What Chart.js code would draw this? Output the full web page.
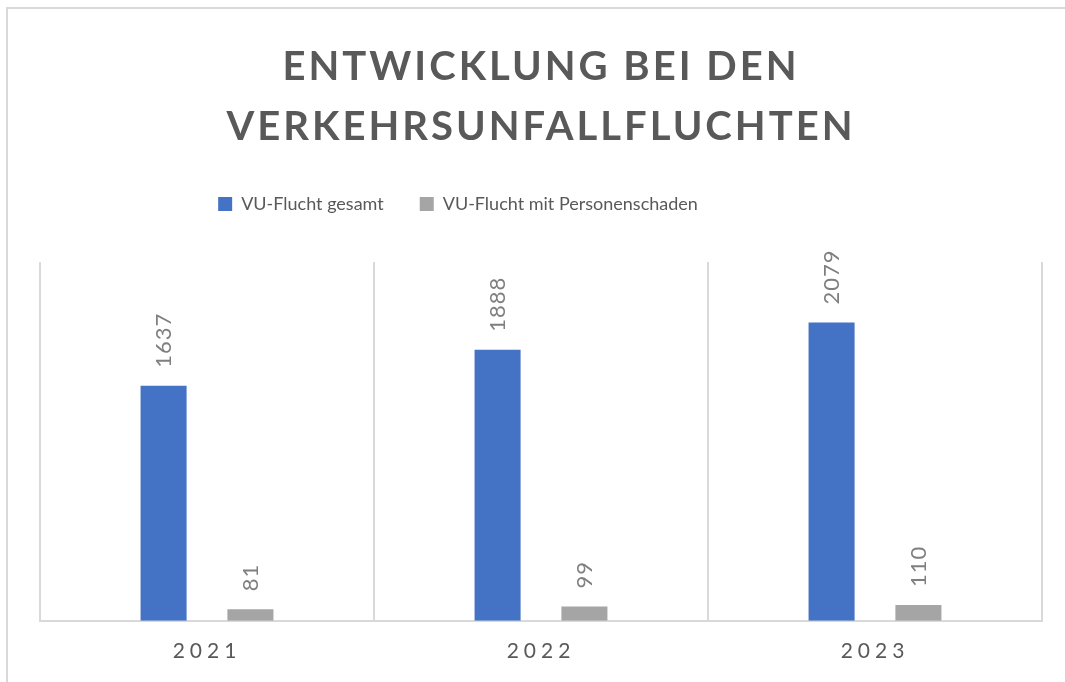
<!DOCTYPE html>
<html>
<head>
<meta charset="utf-8">
<script src="https://cdn.jsdelivr.net/npm/chart.js@4/dist/chart.umd.min.js"></script>
<style>
  html, body { margin: 0; padding: 0; background: #ffffff; }
  #wrap { width: 1065px; height: 682px; }
</style>
</head>
<body>
<div id="wrap"><canvas id="c" width="1065" height="682"></canvas></div>
<script>
const categories = ['2021', '2022', '2023'];
const vuFluchtGesamt = [1637, 1888, 2079];
const vuFluchtPersonenschaden = [81, 99, 110];
const seriesNames = ['VU-Flucht gesamt', 'VU-Flucht mit Personenschaden'];
const titleLines = ['ENTWICKLUNG BEI DEN', 'VERKEHRSUNFALLFLUCHTEN'];

const GRID = '#d9d9d9';
const TEXT = '#595959';

const framePlugin = {
  id: 'frame',
  beforeDraw(chart) {
    const ctx = chart.ctx;
    ctx.save();
    ctx.fillStyle = '#ffffff';
    ctx.fillRect(0, 0, chart.width, chart.height);
    ctx.strokeStyle = GRID;
    ctx.lineWidth = 2;
    ctx.beginPath();
    ctx.moveTo(7, chart.height);
    ctx.lineTo(7, 8);
    ctx.lineTo(chart.width, 8);
    ctx.stroke();
    ctx.restore();
    const wrap = (obj, fn, spacing, dx) => {
      if (!obj || obj['_ls_' + fn]) return;
      const orig = obj[fn];
      obj[fn] = function () {
        const c = this.ctx;
        c.save();
        if (spacing) c.letterSpacing = spacing;
        if (dx) c.translate(dx, 0);
        const r = orig.apply(this, arguments);
        c.restore();
        return r;
      };
      obj['_ls_' + fn] = true;
    };
    wrap(chart.titleBlock, 'draw', '3px', 0);
    wrap(chart.scales.x, 'drawLabels', '5px', 0);
    wrap(chart.legend, 'draw', null, -83);
  }
};

const legendGapPlugin = {
  id: 'legendGap',
  afterInit(chart) {
    const lg = chart.legend;
    if (lg && !lg._gapWrapped) {
      const origFit = lg.fit;
      lg.fit = function () {
        origFit.apply(this, arguments);
        this.height += 39;
      };
      lg._gapWrapped = true;
    }
  }
};

const dataLabelPlugin = {
  id: 'dataLabels',
  afterDatasetsDraw(chart) {
    const ctx = chart.ctx;
    ctx.save();
    ctx.font = '22px Lato';
    ctx.fillStyle = '#7f7f7f';
    ctx.letterSpacing = '1px';
    ctx.textAlign = 'left';
    ctx.textBaseline = 'middle';
    chart.data.datasets.forEach((ds, di) => {
      const meta = chart.getDatasetMeta(di);
      meta.data.forEach((bar, i) => {
        ctx.save();
        ctx.translate(bar.x, bar.y - 18);
        ctx.rotate(-Math.PI / 2);
        ctx.fillText(String(ds.data[i]), 0, 0);
        ctx.restore();
      });
    });
    ctx.restore();
  }
};

new Chart(document.getElementById('c'), {
  type: 'bar',
  data: {
    labels: categories,
    datasets: [
      {
        label: seriesNames[0],
        data: vuFluchtGesamt,
        backgroundColor: '#4472C4',
        categoryPercentage: 0.52,
        barPercentage: 0.53
      },
      {
        label: seriesNames[1],
        data: vuFluchtPersonenschaden,
        backgroundColor: '#A5A5A5',
        categoryPercentage: 0.52,
        barPercentage: 0.53
      }
    ]
  },
  options: {
    responsive: false,
    animation: false,
    devicePixelRatio: 1,
    layout: { padding: { top: 0, left: 40, right: 23, bottom: 0 } },
    plugins: {
      title: {
        display: true,
        text: titleLines,
        color: TEXT,
        font: { family: 'Lato', size: 40, weight: 'bold', lineHeight: 1.5 },
        padding: { top: 37, bottom: 2 }
      },
      legend: {
        display: true,
        position: 'top',
        labels: {
          boxWidth: 14,
          boxHeight: 14,
          padding: 36,
          color: TEXT,
          font: { family: 'Lato', size: 18 }
        }
      },
      tooltip: { enabled: false }
    },
    scales: {
      x: {
        grid: { display: true, color: GRID, lineWidth: 2, offset: true, drawTicks: false },
        border: { display: true, color: GRID, width: 2 },
        ticks: { color: TEXT, font: { family: 'Lato', size: 21 }, padding: 18 }
      },
      y: {
        display: false,
        min: 0,
        max: 2500
      }
    }
  },
  plugins: [framePlugin, legendGapPlugin, dataLabelPlugin]
});
</script>
</body>
</html>
